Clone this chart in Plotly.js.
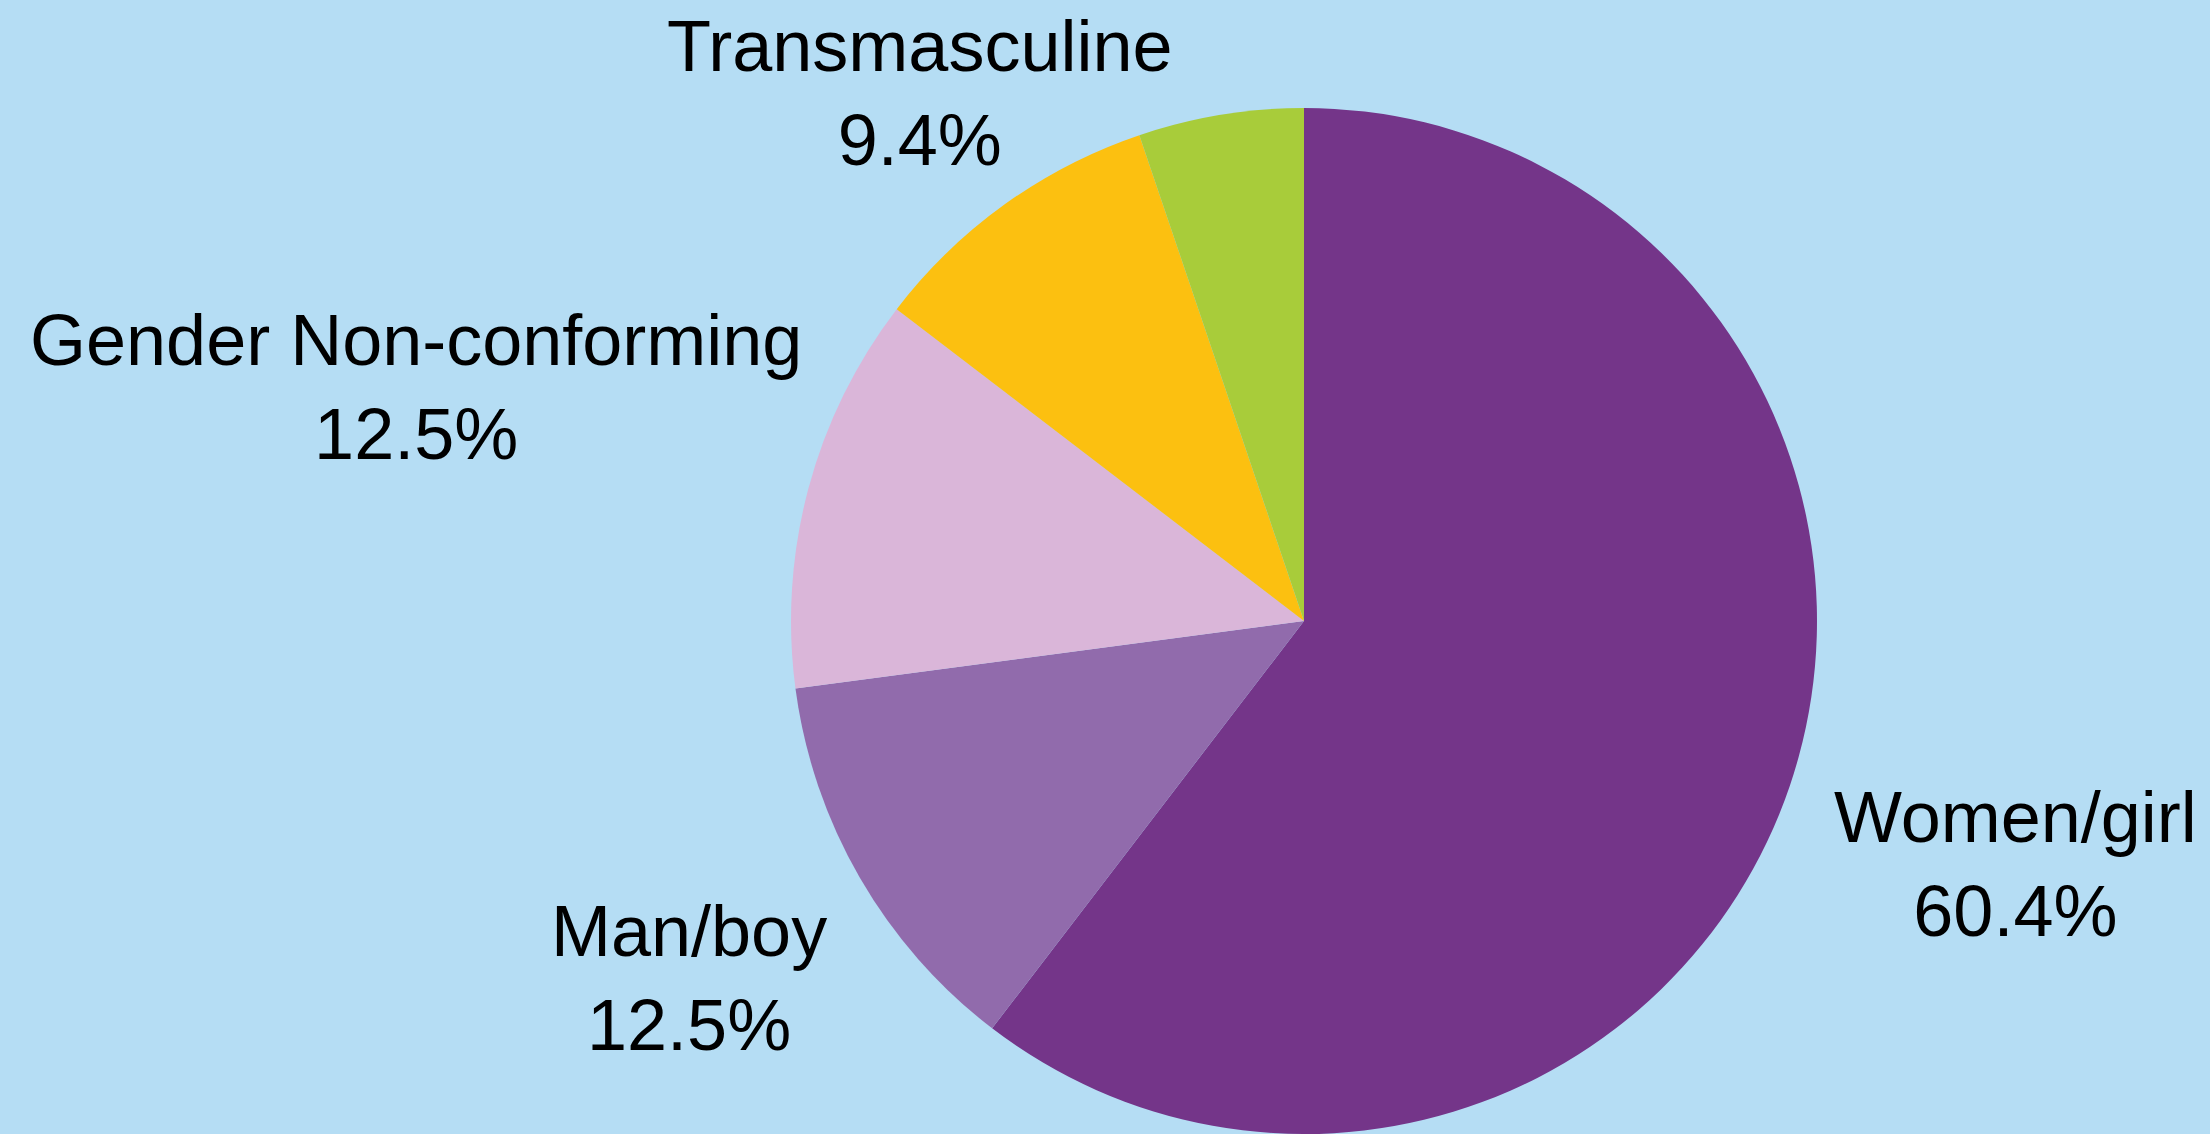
<!DOCTYPE html>
<html>
<head>
<meta charset="utf-8">
<script src="https://cdn.plot.ly/plotly-3.0.1.min.js"></script>
<style>
  html, body { margin: 0; padding: 0; background: #b5ddf4; overflow: hidden; }
  #chart { width: 2210px; height: 1134px; }
</style>
</head>
<body>
<div id="chart"></div>
<script>
// ---- data ----
const categories = ["Women/girl", "Man/boy", "Gender Non-conforming", "Transmasculine", "Other"];
const values = [60.4, 12.5, 12.5, 9.4, 5.2];
const labelShown = [true, true, true, true, false];

// ---- styles ----
const colors = ["#743589", "#916bac", "#dab6d9", "#fcc010", "#a8cc3a"];
const bg = "#b5ddf4";
const W = 2210, H = 1134;
// label centers in pixels (x, y from top)
const labelPos = [[2015, 864], [689, 978], [416, 387], [920, 93], null];

const trace = {
  type: "pie",
  labels: categories,
  values: values,
  sort: false,
  direction: "clockwise",
  rotation: 0,
  textinfo: "none",
  hoverinfo: "label+percent",
  marker: { colors: colors, line: { width: 0 } },
  domain: { x: [791 / W, 1817 / W], y: [0, (H - 108) / H] },
  showlegend: false
};

const annotations = [];
categories.forEach((c, i) => {
  if (!labelShown[i]) return;
  const p = labelPos[i];
  annotations.push({
    xref: "paper", yref: "paper",
    x: p[0] / W, y: 1 - p[1] / H,
    xanchor: "center", yanchor: "middle",
    showarrow: false,
    align: "center",
    text: c + "<br>" + values[i].toFixed(1) + "%",
    font: { family: "Liberation Sans, Arial, Helvetica, sans-serif", size: 72, color: "#000000" }
  });
});

const layout = {
  width: W, height: H,
  margin: { l: 0, r: 0, t: 0, b: 0, pad: 0 },
  paper_bgcolor: bg,
  plot_bgcolor: bg,
  showlegend: false,
  annotations: annotations
};

Plotly.newPlot("chart", [trace], layout, { displayModeBar: false, staticPlot: true });
</script>
</body>
</html>
